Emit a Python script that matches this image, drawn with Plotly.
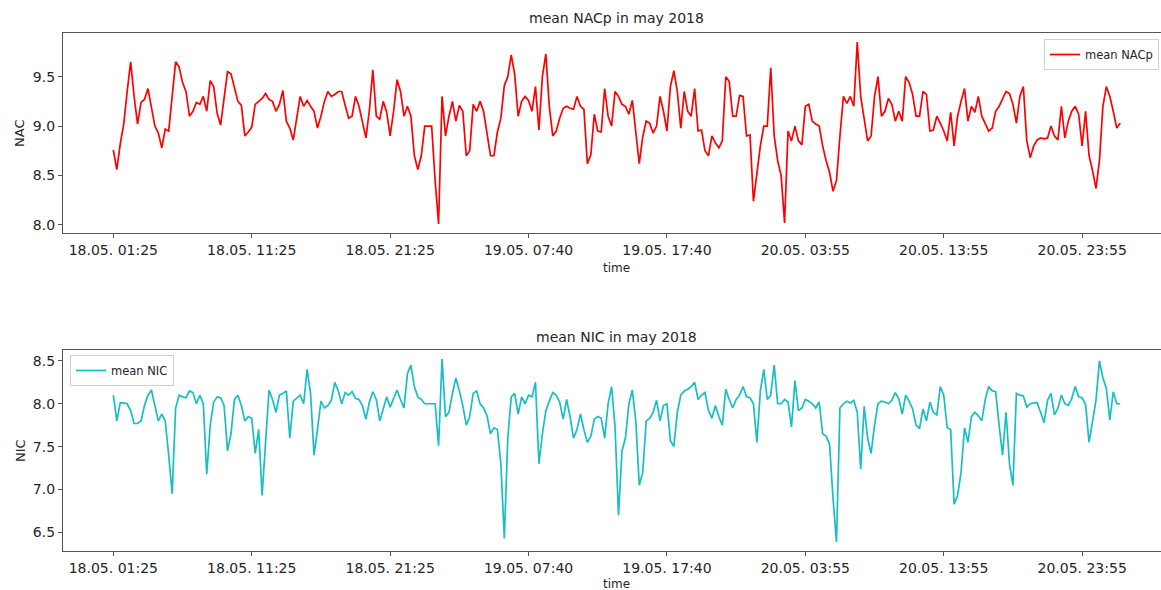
import plotly.graph_objects as go

# Tick labels along the sample axis (one label every 40 samples)
tick_labels = ["18.05. 01:25", "18.05. 11:25", "18.05. 21:25", "19.05. 07:40",
               "19.05. 17:40", "20.05. 03:55", "20.05. 13:55", "20.05. 23:55"]
samples_per_tick = 40

# mean NACp per sample
nacp = [
    8.76, 8.56, 8.82, 9.02, 9.35, 9.65, 9.30, 9.02, 9.24, 9.27,
    9.38, 9.20, 9.00, 8.93, 8.78, 8.97, 8.95, 9.30, 9.65, 9.60,
    9.44, 9.35, 9.10, 9.15, 9.24, 9.22, 9.30, 9.15, 9.46, 9.40,
    9.13, 9.01, 9.30, 9.55, 9.53, 9.40, 9.25, 9.21, 8.90, 8.94,
    8.99, 9.22, 9.25, 9.28, 9.33, 9.27, 9.25, 9.15, 9.22, 9.36,
    9.05, 8.98, 8.86, 9.10, 9.30, 9.20, 9.26, 9.20, 9.15, 8.98,
    9.10, 9.25, 9.35, 9.30, 9.32, 9.35, 9.35, 9.21, 9.08, 9.10,
    9.30, 9.20, 9.05, 8.88, 9.16, 9.57, 9.10, 9.07, 9.25, 9.14,
    8.90, 9.15, 9.47, 9.35, 9.10, 9.20, 9.10, 8.70, 8.56, 8.70,
    9.00, 9.00, 9.00, 8.45, 8.01, 9.30, 8.90, 9.10, 9.25, 9.05,
    9.21, 9.15, 8.70, 8.75, 9.22, 9.15, 9.25, 9.15, 8.90, 8.70,
    8.70, 8.94, 9.08, 9.41, 9.50, 9.72, 9.52, 9.10, 9.25, 9.30,
    9.26, 9.15, 9.40, 8.96, 9.50, 9.73, 9.20, 8.90, 8.95, 9.08,
    9.18, 9.20, 9.18, 9.17, 9.30, 9.20, 9.17, 8.62, 8.71, 9.12,
    8.95, 8.94, 9.38, 9.10, 9.00, 9.35, 9.30, 9.22, 9.20, 9.12,
    9.26, 8.95, 8.62, 8.89, 9.05, 9.03, 8.93, 9.00, 9.30, 9.15,
    8.95, 9.40, 9.56, 9.35, 8.98, 9.35, 9.15, 9.10, 9.38, 8.95,
    8.96, 8.75, 8.70, 8.90, 8.83, 8.78, 8.85, 9.50, 9.45, 9.10,
    9.10, 9.31, 9.30, 8.90, 8.91, 8.24, 8.55, 8.80, 9.00, 9.00,
    9.59, 8.90, 8.65, 8.50, 8.02, 8.95, 8.85, 9.00, 8.85, 8.81,
    9.20, 9.22, 9.05, 9.02, 9.00, 8.80, 8.65, 8.53, 8.34, 8.45,
    8.90, 9.30, 9.23, 9.30, 9.20, 9.85, 9.30, 9.05, 8.85, 8.90,
    9.30, 9.50, 9.10, 9.15, 9.28, 9.22, 9.05, 9.15, 9.05, 9.50,
    9.44, 9.32, 9.10, 9.10, 9.35, 9.32, 8.95, 8.96, 9.10, 9.03,
    8.95, 8.85, 9.14, 8.80, 9.10, 9.25, 9.38, 9.05, 9.20, 9.14,
    9.30, 9.10, 9.03, 8.95, 8.98, 9.15, 9.20, 9.28, 9.35, 9.33,
    9.22, 9.03, 9.30, 9.40, 8.85, 8.68, 8.80, 8.86, 8.88, 8.87,
    8.88, 9.00, 8.90, 8.86, 9.20, 8.88, 9.05, 9.15, 9.20, 9.12,
    8.80, 9.15, 8.70, 8.55, 8.37, 8.65, 9.20, 9.40, 9.30, 9.15,
    8.98, 9.03,
]

# mean NIC per sample
nic = [
    8.10, 7.80, 8.01, 8.01, 8.00, 7.92, 7.77, 7.77, 7.80, 7.98,
    8.10, 8.16, 7.98, 7.80, 7.88, 7.80, 7.40, 6.95, 7.95, 8.10,
    8.08, 8.07, 8.15, 8.13, 8.00, 8.10, 8.00, 7.18, 7.75, 8.02,
    8.08, 8.07, 7.98, 7.45, 7.65, 8.05, 8.10, 7.98, 7.80, 7.85,
    7.83, 7.42, 7.70, 6.93, 7.55, 8.16, 8.05, 7.90, 8.10, 8.12,
    8.15, 7.60, 8.03, 8.06, 8.10, 8.00, 8.40, 8.12, 7.40, 7.70,
    8.03, 7.95, 7.98, 8.04, 8.25, 8.15, 8.00, 8.13, 8.10, 8.14,
    8.06, 8.05, 7.98, 7.82, 8.02, 8.14, 8.05, 7.80, 7.95, 8.08,
    7.96, 8.05, 8.16, 8.05, 7.95, 8.35, 8.45, 8.20, 8.08, 8.05,
    8.00, 8.00, 8.00, 8.00, 7.51, 8.52, 7.85, 7.90, 8.12, 8.30,
    8.15, 7.98, 7.75, 7.85, 8.12, 8.15, 8.00, 7.95, 7.86, 7.65,
    7.72, 7.70, 7.30, 6.43, 7.60, 8.08, 8.12, 7.88, 8.08, 8.00,
    8.10, 8.08, 8.25, 7.30, 7.65, 7.92, 8.03, 8.13, 8.10, 8.02,
    7.82, 8.05, 7.85, 7.60, 7.70, 7.88, 7.70, 7.55, 7.62, 7.82,
    7.85, 7.83, 7.60, 8.00, 8.20, 7.73, 6.70, 7.45, 7.60, 8.00,
    8.16, 7.80, 7.05, 7.20, 7.80, 7.83, 7.90, 8.04, 7.80, 7.98,
    8.00, 7.57, 7.50, 7.90, 8.10, 8.15, 8.17, 8.20, 8.25, 8.05,
    8.10, 8.13, 7.92, 7.83, 7.98, 7.85, 7.75, 8.17, 8.05, 7.95,
    8.05, 8.10, 8.20, 8.08, 8.07, 8.00, 7.55, 8.15, 8.40, 8.05,
    8.10, 8.45, 8.00, 8.00, 8.05, 8.02, 7.73, 8.27, 7.92, 7.95,
    8.05, 8.03, 8.00, 7.95, 8.02, 7.65, 7.62, 7.53, 6.90, 6.39,
    7.95, 8.00, 8.03, 8.01, 8.04, 7.90, 7.24, 7.97, 7.60, 7.42,
    7.75, 8.00, 8.03, 8.02, 8.00, 8.04, 8.13, 8.06, 7.88, 8.10,
    8.03, 7.94, 7.75, 7.71, 7.94, 7.80, 8.02, 7.90, 7.87, 8.20,
    8.10, 7.72, 7.70, 6.83, 6.93, 7.20, 7.72, 7.55, 7.85, 7.90,
    7.86, 7.80, 8.05, 8.20, 8.15, 8.14, 7.75, 7.40, 7.90, 7.30,
    7.05, 8.12, 8.10, 8.09, 7.96, 8.00, 8.01, 8.01, 7.90, 7.78,
    8.04, 8.12, 7.87, 7.95, 8.10, 8.00, 7.98, 8.06, 8.20, 8.08,
    8.07, 7.99, 7.55, 7.80, 8.04, 8.50, 8.30, 8.18, 7.81, 8.14,
    8.00, 8.00,
]

W, H = 1161, 590
PLOT_L = 63                     # left edge of the axes, px
PX_PER_SAMPLE = 138.4 / samples_per_tick

FONT = "DejaVu Sans"
AX_COLOR = "#555555"
TXT_COLOR = "#262626"


def padded(vals, frac=0.05):
    lo, hi = min(vals), max(vals)
    pad = (hi - lo) * frac
    return [lo - pad, hi + pad]


n_max = max(len(nacp), len(nic)) - 1
x_lo = -0.05 * n_max
x_hi = x_lo + (W - PLOT_L) / PX_PER_SAMPLE

tickvals = [i * samples_per_tick for i in range(len(tick_labels))]


def py(px):
    """pixel row from the top -> paper fraction"""
    return 1 - px / H


def px_x(px):
    """pixel column -> paper fraction of the plot area"""
    return (px - PLOT_L) / (W - PLOT_L)


fig = go.Figure()
fig.add_trace(go.Scatter(
    x=list(range(len(nacp))), y=nacp, mode="lines", name="mean NACp",
    line=dict(color="#ff0000", width=1.7), xaxis="x", yaxis="y", legend="legend"))
fig.add_trace(go.Scatter(
    x=list(range(len(nic))), y=nic, mode="lines", name="mean NIC",
    line=dict(color="#17bfc4", width=1.7), xaxis="x2", yaxis="y2", legend="legend2"))

xaxis_common = dict(
    range=[x_lo, x_hi], tickvals=tickvals, ticktext=tick_labels,
    ticks="outside", ticklen=4, tickcolor=AX_COLOR, tickwidth=1,
    showline=True, linecolor=AX_COLOR, linewidth=1.3, mirror=True,
    showgrid=False, zeroline=False,
    tickfont=dict(family=FONT, size=14, color=TXT_COLOR),
)
yaxis_common = dict(
    ticks="outside", ticklen=4, tickcolor=AX_COLOR, tickwidth=1,
    showline=True, linecolor=AX_COLOR, linewidth=1.3, mirror=False,
    showgrid=False, zeroline=False, tickformat=".1f",
    tickfont=dict(family=FONT, size=14, color=TXT_COLOR),
)

legend_style = dict(
    bgcolor="rgba(255,255,255,0.8)", bordercolor="#d0d0d0", borderwidth=1,
    font=dict(family=FONT, size=11.5, color=TXT_COLOR),
    xref="paper", yref="paper", itemwidth=30, tracegroupgap=0,
)

fig.update_layout(
    width=W, height=H,
    margin=dict(l=PLOT_L, r=0, t=0, b=0, autoexpand=False),
    paper_bgcolor="white", plot_bgcolor="white",
    xaxis=dict(domain=[0, 1], anchor="y", **xaxis_common),
    yaxis=dict(domain=[py(233), py(33)], anchor="x", range=padded(nacp),
               tickvals=[8.0, 8.5, 9.0, 9.5], **yaxis_common),
    xaxis2=dict(domain=[0, 1], anchor="y2", **xaxis_common),
    yaxis2=dict(domain=[py(551), py(350)], anchor="x2", range=padded(nic),
                tickvals=[6.5, 7.0, 7.5, 8.0, 8.5], **yaxis_common),
    legend=dict(x=px_x(1044), y=py(39), xanchor="left", yanchor="top", **legend_style),
    legend2=dict(x=px_x(70), y=py(355), xanchor="left", yanchor="top", **legend_style),
    showlegend=True,
)

title_font = dict(family=FONT, size=14, color=TXT_COLOR)
label_font = dict(family=FONT, size=12, color=TXT_COLOR)
annotations = [
    dict(text="mean NACp in may 2018", x=px_x(616), y=py(18), font=title_font),
    dict(text="mean NIC in may 2018", x=px_x(616), y=py(337), font=title_font),
    dict(text="time", x=px_x(616), y=py(268), font=label_font),
    dict(text="time", x=px_x(616), y=py(584), font=label_font),
    dict(text="NAC", x=px_x(20), y=py(134), textangle=-90, font=dict(family=FONT, size=13, color=TXT_COLOR)),
    dict(text="NIC", x=px_x(20), y=py(451), textangle=-90, font=dict(family=FONT, size=13, color=TXT_COLOR)),
]
for a in annotations:
    fig.add_annotation(xref="paper", yref="paper", showarrow=False,
                       xanchor="center", yanchor="middle", **a)

fig.write_html("out.html")
